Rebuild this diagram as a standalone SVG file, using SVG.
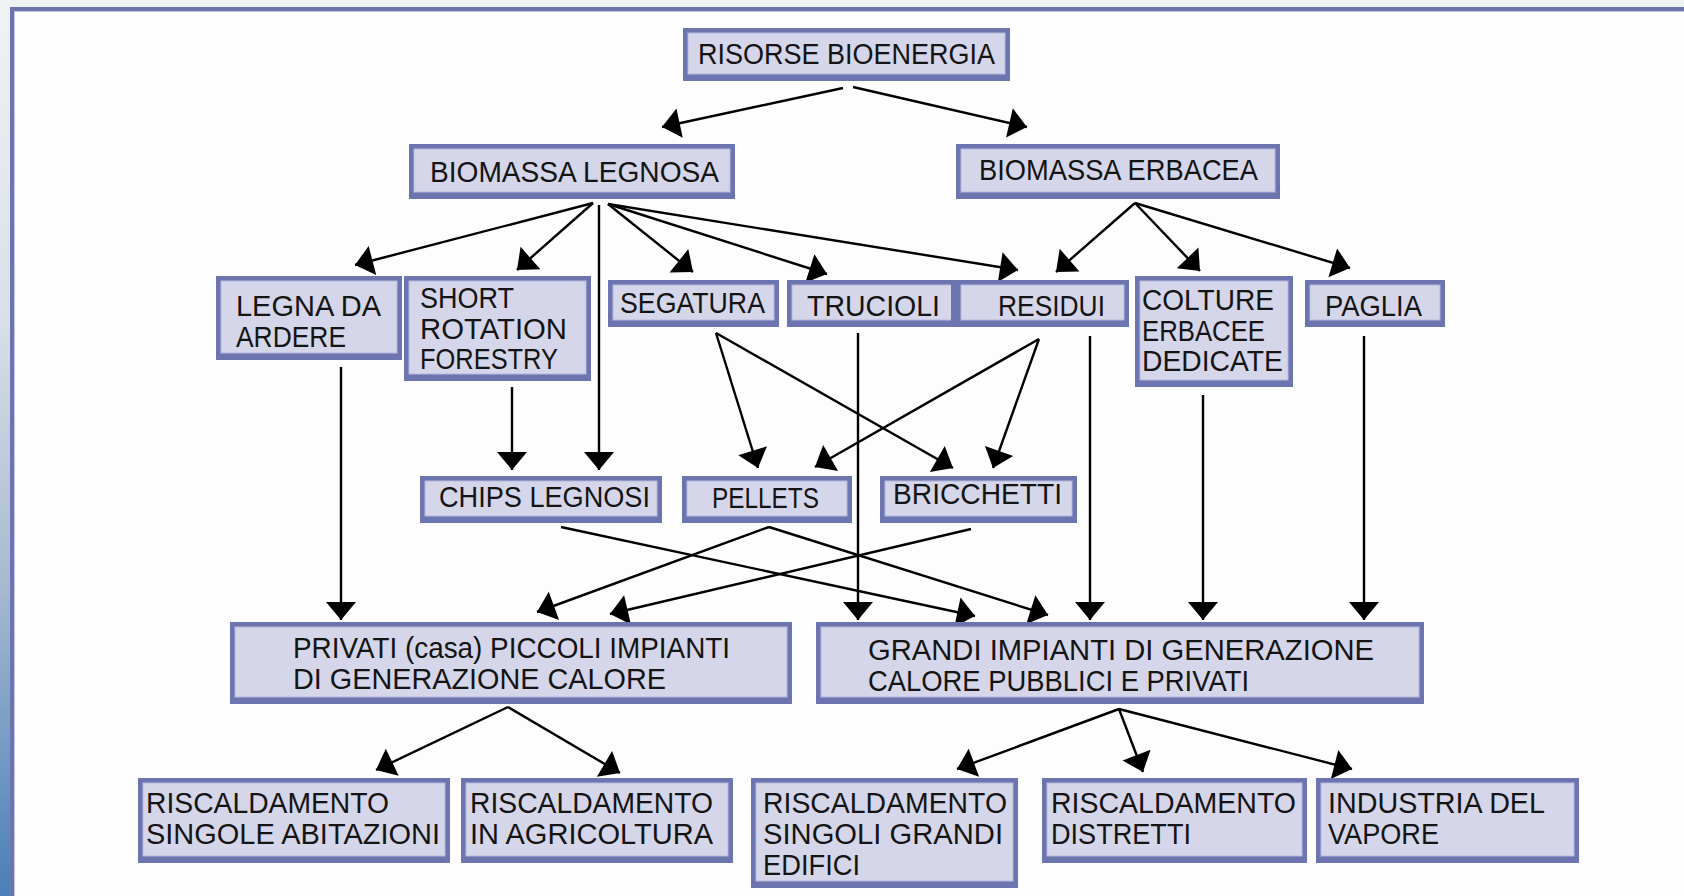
<svg xmlns="http://www.w3.org/2000/svg" width="1684" height="896" viewBox="0 0 1684 896">
<style>
.bd{fill:#6d75b1}
.fl{fill:#d5d6e9;stroke:#b6b9dd;stroke-width:1}
.t{font-family:"Liberation Sans",Arial,sans-serif;font-size:29px;fill:#141414}
.c line{stroke:#000;stroke-width:2.4;fill:none;marker-end:url(#ah)}
</style>
<defs>
<linearGradient id="lg" x1="0" y1="0" x2="0" y2="1">
<stop offset="0" stop-color="#f0f3f6"/>
<stop offset="0.35" stop-color="#d9e0e9"/>
<stop offset="0.65" stop-color="#a7bad0"/>
<stop offset="1" stop-color="#4a7fb8"/>
</linearGradient>
<marker id="ah" markerUnits="userSpaceOnUse" markerWidth="20" markerHeight="32" viewBox="0 -16 18 32" refX="18" refY="0" orient="auto">
<path d="M0,-15 L18,0 L0,15 Z" fill="#000"/>
</marker>
</defs>
<g id="frame">
<rect x="0" y="0" width="1684" height="896" fill="#fdfdfd"/>
<rect x="0" y="0" width="1684" height="7" fill="#eef2f6"/>
<rect x="0" y="0" width="10" height="896" fill="url(#lg)"/>
<rect x="10" y="7" width="1674" height="4" fill="#6d75b1"/>
<rect x="10" y="7" width="4" height="889" fill="#6d75b1"/>
<rect x="14" y="11" width="1670" height="1" fill="#c3c6e6"/>
<rect x="14" y="11" width="1" height="885" fill="#c3c6e6"/>
</g>
<g id="connectors" class="c">
<line x1="843" y1="88" x2="662" y2="127"/>
<line x1="853" y1="87" x2="1027" y2="127"/>
<line x1="593" y1="203" x2="355" y2="265"/>
<line x1="593" y1="203" x2="517" y2="270"/>
<line x1="599" y1="205" x2="599" y2="470"/>
<line x1="608" y1="204" x2="693" y2="272"/>
<line x1="608" y1="204" x2="827" y2="274"/>
<line x1="608" y1="204" x2="1018" y2="270"/>
<line x1="1135" y1="203" x2="1056" y2="272"/>
<line x1="1135" y1="203" x2="1200" y2="271"/>
<line x1="1135" y1="203" x2="1350" y2="268"/>
<line x1="512" y1="387" x2="512" y2="470"/>
<line x1="716" y1="333" x2="758" y2="468"/>
<line x1="716" y1="333" x2="953" y2="468"/>
<line x1="1039" y1="339" x2="815" y2="467"/>
<line x1="1039" y1="339" x2="993" y2="468"/>
<line x1="341" y1="367" x2="341" y2="620"/>
<line x1="858" y1="333" x2="858" y2="620"/>
<line x1="1090" y1="336" x2="1090" y2="620"/>
<line x1="1203" y1="395" x2="1203" y2="620"/>
<line x1="1364" y1="336" x2="1364" y2="620"/>
<line x1="561" y1="527" x2="975" y2="616"/>
<line x1="769" y1="527" x2="1048" y2="615"/>
<line x1="769" y1="527" x2="537" y2="612"/>
<line x1="971" y1="529" x2="610" y2="614"/>
<line x1="508" y1="707" x2="376" y2="770"/>
<line x1="508" y1="707" x2="620" y2="773"/>
<line x1="1119" y1="709" x2="957" y2="769"/>
<line x1="1119" y1="709" x2="1143" y2="772"/>
<line x1="1119" y1="709" x2="1352" y2="769"/>
</g>
<g id="n-risorse">
<rect class="bd" x="683" y="28" width="327" height="53"/>
<rect class="fl" x="688" y="33" width="317" height="41"/>
<text class="t" x="698" y="64" textLength="297" lengthAdjust="spacingAndGlyphs">RISORSE BIOENERGIA</text>
</g>
<g id="n-legnosa">
<rect class="bd" x="409" y="144" width="326" height="55"/>
<rect class="fl" x="414" y="149" width="316" height="43"/>
<text class="t" x="430" y="182" textLength="289" lengthAdjust="spacingAndGlyphs">BIOMASSA LEGNOSA</text>
</g>
<g id="n-erbacea">
<rect class="bd" x="956" y="144" width="324" height="55"/>
<rect class="fl" x="961" y="149" width="314" height="43"/>
<text class="t" x="979" y="180" textLength="279" lengthAdjust="spacingAndGlyphs">BIOMASSA ERBACEA</text>
</g>
<g id="n-legna">
<rect class="bd" x="216" y="276" width="186" height="84"/>
<rect class="fl" x="221" y="281" width="176" height="72"/>
<text class="t" x="236" y="316" textLength="145" lengthAdjust="spacingAndGlyphs">LEGNA DA</text>
<text class="t" x="236" y="347" textLength="110" lengthAdjust="spacingAndGlyphs">ARDERE</text>
</g>
<g id="n-short">
<rect class="bd" x="404" y="276" width="187" height="105"/>
<rect class="fl" x="409" y="281" width="177" height="93"/>
<text class="t" x="420" y="308" textLength="94" lengthAdjust="spacingAndGlyphs">SHORT</text>
<text class="t" x="420" y="339" textLength="147" lengthAdjust="spacingAndGlyphs">ROTATION</text>
<text class="t" x="420" y="369" textLength="138" lengthAdjust="spacingAndGlyphs">FORESTRY</text>
</g>
<g id="n-segatura">
<rect class="bd" x="608" y="280" width="171" height="47"/>
<rect class="fl" x="613" y="285" width="161" height="35"/>
<text class="t" x="620" y="313" textLength="145" lengthAdjust="spacingAndGlyphs">SEGATURA</text>
</g>
<g id="n-trucioli">
<rect class="bd" x="787" y="280" width="170" height="47"/>
<rect class="fl" x="792" y="285" width="160" height="35"/>
<text class="t" x="807" y="316" textLength="133" lengthAdjust="spacingAndGlyphs">TRUCIOLI</text>
</g>
<g id="n-residui">
<rect class="bd" x="951" y="280" width="178" height="47"/>
<rect class="fl" x="961" y="285" width="163" height="35"/>
<text class="t" x="998" y="316" textLength="107" lengthAdjust="spacingAndGlyphs">RESIDUI</text>
</g>
<g id="n-colture">
<rect class="bd" x="1135" y="276" width="158" height="111"/>
<rect class="fl" x="1140" y="281" width="148" height="99"/>
<text class="t" x="1142" y="310" textLength="132" lengthAdjust="spacingAndGlyphs">COLTURE</text>
<text class="t" x="1142" y="341" textLength="123" lengthAdjust="spacingAndGlyphs">ERBACEE</text>
<text class="t" x="1142" y="371" textLength="141" lengthAdjust="spacingAndGlyphs">DEDICATE</text>
</g>
<g id="n-paglia">
<rect class="bd" x="1305" y="280" width="140" height="47"/>
<rect class="fl" x="1310" y="285" width="130" height="35"/>
<text class="t" x="1325" y="316" textLength="97" lengthAdjust="spacingAndGlyphs">PAGLIA</text>
</g>
<g id="n-chips">
<rect class="bd" x="420" y="476" width="242" height="47"/>
<rect class="fl" x="425" y="481" width="232" height="35"/>
<text class="t" x="439" y="507" textLength="211" lengthAdjust="spacingAndGlyphs">CHIPS LEGNOSI</text>
</g>
<g id="n-pellets">
<rect class="bd" x="682" y="476" width="170" height="47"/>
<rect class="fl" x="687" y="481" width="160" height="35"/>
<text class="t" x="712" y="508" textLength="107" lengthAdjust="spacingAndGlyphs">PELLETS</text>
</g>
<g id="n-bricchetti">
<rect class="bd" x="880" y="476" width="197" height="47"/>
<rect class="fl" x="885" y="481" width="187" height="35"/>
<text class="t" x="893" y="504" textLength="169" lengthAdjust="spacingAndGlyphs">BRICCHETTI</text>
</g>
<g id="n-privati">
<rect class="bd" x="230" y="622" width="562" height="82"/>
<rect class="fl" x="235" y="627" width="552" height="70"/>
<text class="t" x="293" y="658" textLength="437" lengthAdjust="spacingAndGlyphs">PRIVATI (casa) PICCOLI IMPIANTI</text>
<text class="t" x="293" y="689" textLength="373" lengthAdjust="spacingAndGlyphs">DI GENERAZIONE CALORE</text>
</g>
<g id="n-grandi">
<rect class="bd" x="816" y="622" width="608" height="82"/>
<rect class="fl" x="821" y="627" width="598" height="70"/>
<text class="t" x="868" y="660" textLength="506" lengthAdjust="spacingAndGlyphs">GRANDI IMPIANTI DI GENERAZIONE</text>
<text class="t" x="868" y="691" textLength="381" lengthAdjust="spacingAndGlyphs">CALORE PUBBLICI E PRIVATI</text>
</g>
<g id="n-risc-abitazioni">
<rect class="bd" x="138" y="778" width="312" height="85"/>
<rect class="fl" x="143" y="783" width="302" height="73"/>
<text class="t" x="146" y="813" textLength="243" lengthAdjust="spacingAndGlyphs">RISCALDAMENTO</text>
<text class="t" x="146" y="844" textLength="294" lengthAdjust="spacingAndGlyphs">SINGOLE ABITAZIONI</text>
</g>
<g id="n-risc-agricoltura">
<rect class="bd" x="461" y="778" width="272" height="85"/>
<rect class="fl" x="466" y="783" width="262" height="73"/>
<text class="t" x="470" y="813" textLength="243" lengthAdjust="spacingAndGlyphs">RISCALDAMENTO</text>
<text class="t" x="470" y="844" textLength="243" lengthAdjust="spacingAndGlyphs">IN AGRICOLTURA</text>
</g>
<g id="n-risc-edifici">
<rect class="bd" x="751" y="778" width="267" height="110"/>
<rect class="fl" x="756" y="783" width="257" height="98"/>
<text class="t" x="763" y="813" textLength="244" lengthAdjust="spacingAndGlyphs">RISCALDAMENTO</text>
<text class="t" x="763" y="844" textLength="240" lengthAdjust="spacingAndGlyphs">SINGOLI GRANDI</text>
<text class="t" x="763" y="875" textLength="97" lengthAdjust="spacingAndGlyphs">EDIFICI</text>
</g>
<g id="n-risc-distretti">
<rect class="bd" x="1042" y="778" width="265" height="85"/>
<rect class="fl" x="1047" y="783" width="255" height="73"/>
<text class="t" x="1051" y="813" textLength="245" lengthAdjust="spacingAndGlyphs">RISCALDAMENTO</text>
<text class="t" x="1051" y="844" textLength="140" lengthAdjust="spacingAndGlyphs">DISTRETTI</text>
</g>
<g id="n-industria">
<rect class="bd" x="1316" y="778" width="263" height="85"/>
<rect class="fl" x="1321" y="783" width="253" height="73"/>
<text class="t" x="1328" y="813" textLength="217" lengthAdjust="spacingAndGlyphs">INDUSTRIA DEL</text>
<text class="t" x="1328" y="844" textLength="111" lengthAdjust="spacingAndGlyphs">VAPORE</text>
</g>
</svg>
